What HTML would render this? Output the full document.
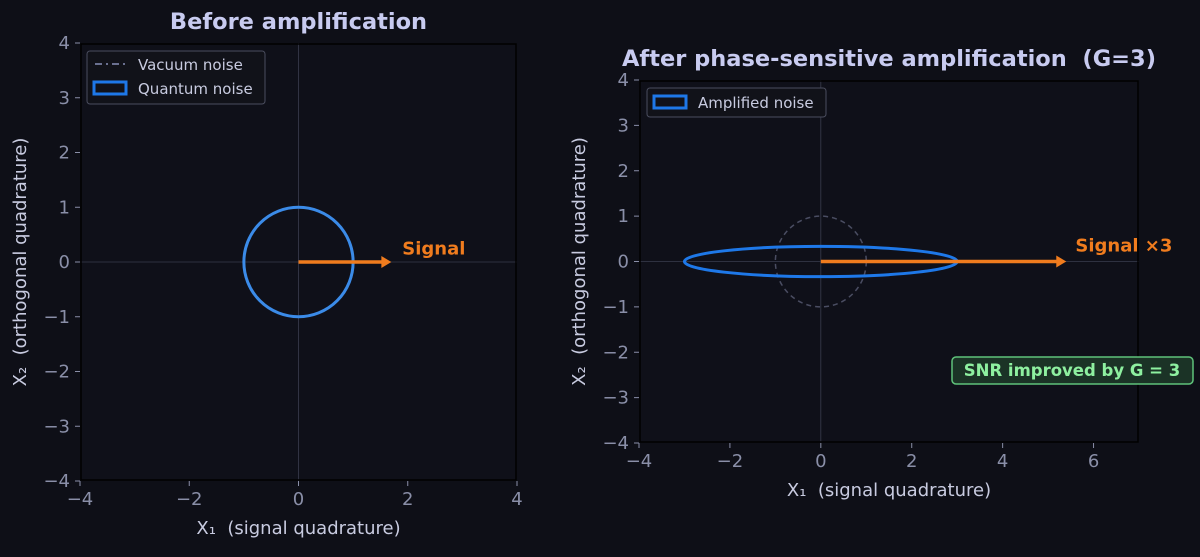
<!DOCTYPE html>
<html><head><meta charset="utf-8"><style>
body{margin:0;background:#0e0f17;width:1200px;height:552px;overflow:hidden}
svg{font-family:"DejaVu Sans","Liberation Sans",sans-serif}
text{white-space:pre}
</style></head><body>
<svg id="c" width="1200" height="552"></svg>
<script>
const leftRange=[-4,4], rightX=[-4,7];
const leftTicks=[-4,-2,0,2,4], yTicks=[-4,-3,-2,-1,0,1,2,3,4], rightXTicks=[-4,-2,0,2,4,6];
const vacuumRadius=[1], gain=[3], signalLen=[1.7], ampSignalLen=[5.4];
const S='http://www.w3.org/2000/svg', svg=document.getElementById('c');
function mk(t,a,p,txt){const e=document.createElementNS(S,t);for(const k in a)e.setAttribute(k,a[k]);if(txt!==undefined)e.textContent=txt;(p||svg).appendChild(e);return e;}
function panel(name,L,T,R,B,xr,yr,xt,yt,title,ty){
 const sx=v=>L+(v-xr[0])/(xr[1]-xr[0])*(R-L), sy=v=>B-(v-yr[0])/(yr[1]-yr[0])*(B-T);
 const g=mk('g',{});
 mk('rect',{x:L,y:T,width:R-L,height:B-T,fill:'#0f1019'},g);
 mk('line',{x1:sx(0),x2:sx(0),y1:T,y2:B,stroke:'#3a3d4e','stroke-width':0.8},g);
 mk('line',{x1:L,x2:R,y1:sy(0),y2:sy(0),stroke:'#3a3d4e','stroke-width':0.8},g);
 xt.forEach(v=>{mk('line',{x1:sx(v),x2:sx(v),y1:B,y2:B+5,stroke:'#8a8fa8'},g);const t=mk('text',{x:sx(v),y:B+24,'text-anchor':'middle',fill:'#8a8fa8','font-size':18},g,(v<0?'−':'')+Math.abs(v));});
 yt.forEach(v=>{mk('line',{x1:L-5,x2:L,y1:sy(v),y2:sy(v),stroke:'#8a8fa8'},g);const t=mk('text',{x:L-10,y:sy(v)+6,'text-anchor':'end',fill:'#8a8fa8','font-size':18},g,(v<0?'−':'')+Math.abs(v));});
 const xl=mk('text',{x:(L+R)/2,y:B+53,'text-anchor':'middle',fill:'#c8cbe0','font-size':18},g,'X₁  (signal quadrature)');
 const yl=mk('text',{x:0,y:0,'text-anchor':'middle',fill:'#c8cbe0','font-size':18,transform:`translate(${L-54},${(T+B)/2}) rotate(-90)`},g,'X₂  (orthogonal quadrature)');
 const tt=mk('text',{x:(L+R)/2,y:ty,'text-anchor':'middle',fill:'#c8cbf0','font-size':22.5,'font-weight':'bold'},g,title);
 return {g,sx,sy,L,T,R,B};
}
function arrow(p,len,label,tx,ty){
 const x0=p.sx(0),x1=p.sx(len),y=p.sy(0);
 const a=mk('g',{},p.g);
 mk('line',{x1:x0,x2:x1-8,y1:y,y2:y,stroke:'#f07c1e','stroke-width':3.5},a);
 mk('path',{d:`M${x1-10},${y-6} L${x1},${y} L${x1-10},${y+6} Z`,fill:'#f07c1e'},a);
 const t=mk('text',{x:p.sx(tx),y:p.sy(ty)+6,fill:'#f07c1e','font-size':18,'font-weight':'bold'},p.g,label);
}
const P1=panel('before-panel',80,43,517,481,leftRange,leftRange,leftTicks,yTicks,'Before amplification',29);
const c1=mk('ellipse',{cx:P1.sx(0),cy:P1.sy(0),rx:P1.sx(vacuumRadius[0])-P1.sx(0),ry:P1.sy(0)-P1.sy(vacuumRadius[0]),fill:'none',stroke:'#6a7090','stroke-width':1.5,'stroke-dasharray':'6 4'},P1.g);

const q1=mk('ellipse',{cx:P1.sx(0),cy:P1.sy(0),rx:P1.sx(vacuumRadius[0])-P1.sx(0),ry:P1.sy(0)-P1.sy(vacuumRadius[0]),fill:'none',stroke:'#3b8be8','stroke-width':3},P1.g);

arrow(P1,signalLen[0],'Signal',1.9,0.25);
mk('rect',{x:P1.L+1,y:P1.T+1,width:P1.R-P1.L-2,height:P1.B-P1.T-2,fill:'none',stroke:'#000','stroke-width':1.5},P1.g);
const lg=mk('g',{},P1.g);
mk('rect',{x:87,y:51,width:178,height:53,rx:3,fill:'#111219',stroke:'#4a4d5e'},lg);
mk('line',{x1:95,x2:126,y1:64,y2:64,stroke:'#6a7090','stroke-width':2,'stroke-dasharray':'7 4 2 4'},lg);
mk('text',{x:138,y:70,fill:'#c8cbe0','font-size':15},lg,'Vacuum noise');
mk('rect',{x:94,y:82,width:32,height:12,fill:'none',stroke:'#1e78e8','stroke-width':3},lg);
mk('text',{x:138,y:94,fill:'#c8cbe0','font-size':15},lg,'Quantum noise');
const P2=panel('after-panel',639,80,1139,443,rightX,leftRange,rightXTicks,yTicks,'After phase-sensitive amplification  (G=3)',66);
const c2=mk('ellipse',{cx:P2.sx(0),cy:P2.sy(0),rx:P2.sx(vacuumRadius[0])-P2.sx(0),ry:P2.sy(0)-P2.sy(vacuumRadius[0]),fill:'none',stroke:'#4a4d62','stroke-width':1.5,'stroke-dasharray':'5 4'},P2.g);

const e2=mk('ellipse',{cx:P2.sx(0),cy:P2.sy(0),rx:P2.sx(gain[0])-P2.sx(0),ry:P2.sy(0)-P2.sy(1/gain[0]),fill:'none',stroke:'#1e78e8','stroke-width':3},P2.g);

arrow(P2,ampSignalLen[0],'Signal ×3',5.6,0.35);
mk('rect',{x:P2.L+1,y:P2.T+1,width:P2.R-P2.L-2,height:P2.B-P2.T-2,fill:'none',stroke:'#000','stroke-width':1.5},P2.g);
const lg2=mk('g',{},P2.g);
mk('rect',{x:647,y:88,width:179,height:29,rx:3,fill:'#111219',stroke:'#4a4d5e'},lg2);
mk('rect',{x:654,y:96,width:32,height:12,fill:'none',stroke:'#1e78e8','stroke-width':3},lg2);
mk('text',{x:698,y:108,fill:'#c8cbe0','font-size':15},lg2,'Amplified noise');
const sb=mk('g',{},P2.g);
mk('rect',{x:952,y:357,width:241,height:27,rx:4,fill:'#1b3326',stroke:'#5fc27a','stroke-width':1.5},sb);
mk('text',{x:1072,y:376,'text-anchor':'middle',fill:'#8ef0a0','font-size':16.5,'font-weight':'bold'},sb,'SNR improved by G = 3');
</script></body></html>
